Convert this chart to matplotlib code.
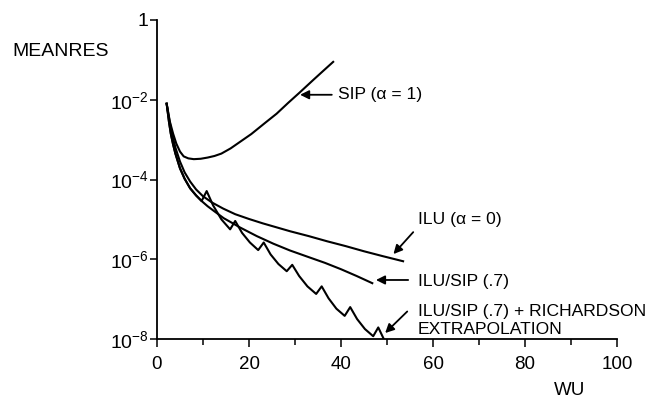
import numpy as np
import matplotlib
matplotlib.use("Agg")
import matplotlib.pyplot as plt

plt.rcParams['font.family'] = ['Liberation Sans', 'DejaVu Sans']
plt.rcParams['mathtext.fontset'] = 'custom'
plt.rcParams['mathtext.rm'] = 'Liberation Sans'
plt.rcParams['mathtext.it'] = 'Liberation Sans'
plt.rcParams['mathtext.bf'] = 'Liberation Sans'

# Mean residual histories (work units vs log10 of MEANRES)
sip_wu = [2.1, 2.8, 3.5, 4.2, 5.0, 5.8, 6.8, 8.0, 9.5, 11.0, 12.5, 14.0, 16.0, 18.0, 20.5, 23.5,
          26.0, 28.5, 31.0, 34.0, 36.0, 38.3]
sip_log = [-2.1, -2.55, -2.85, -3.1, -3.3, -3.42, -3.47, -3.49, -3.48, -3.45, -3.41, -3.35, -3.22, -3.06, -2.86, -2.58,
           -2.35, -2.08, -1.82, -1.5, -1.29, -1.05]

ilu_wu = [2.1, 2.6, 3.0, 3.5, 4.0, 5.0, 6.0, 7.2, 8.5, 10.0, 12.0, 14.4, 17.0, 20.0, 23.0, 26.0,
          29.0, 33.0, 37.0, 41.0, 45.0, 49.0, 53.5]
ilu_log = [-2.1, -2.45, -2.7, -2.97, -3.2, -3.55, -3.82, -4.05, -4.25, -4.42, -4.58, -4.73, -4.87, -4.99, -5.1, -5.2,
           -5.3, -5.42, -5.55, -5.67, -5.8, -5.92, -6.05]

ilusip_wu = [2.1, 2.6, 3.0, 3.5, 4.0, 5.0, 6.0, 7.2, 8.5, 9.7, 11.0, 12.5, 14.5, 16.5, 18.0, 21.7,
             25.3, 28.9, 33.3, 36.5, 40.0, 43.4, 46.8]
ilusip_log = [-2.1, -2.55, -2.85, -3.12, -3.35, -3.72, -3.98, -4.22, -4.4, -4.54, -4.67, -4.8, -4.97, -5.1, -5.2, -5.42,
              -5.61, -5.78, -5.96, -6.09, -6.25, -6.42, -6.6]

rich_wu = [2.1, 2.6, 3.0, 3.5, 4.0, 5.0, 6.0, 7.2, 8.5, 9.7,
           10.8, 12.2, 14.0, 15.9,
           17.0, 18.5, 20.2, 22.0,
           23.2, 24.7, 26.4, 28.2,
           29.4, 30.9, 32.7, 34.6,
           35.8, 37.3, 39.0, 40.8,
           42.0, 43.5, 45.2, 47.0,
           48.1, 49.3]
rich_log = [-2.1, -2.55, -2.85, -3.12, -3.35, -3.72, -3.98, -4.22, -4.4, -4.54,
            -4.29, -4.65, -5.0, -5.25,
            -5.04, -5.34, -5.58, -5.77,
            -5.58, -5.88, -6.12, -6.3,
            -6.14, -6.42, -6.68, -6.87,
            -6.68, -6.98, -7.24, -7.42,
            -7.2, -7.5, -7.75, -7.93,
            -7.71, -8.0]

y_tick_exps = [0, -2, -4, -6, -8]
x_major = [0, 20, 40, 60, 80, 100]
x_minor = [10, 30, 50, 70, 90]

fig = plt.figure(figsize=(6.49, 4.00), dpi=100)
ax = fig.add_axes([157 / 649, 1 - 339 / 400, 460 / 649, 319 / 400])

lw = 1.5
for wu, lg in [(sip_wu, sip_log), (ilu_wu, ilu_log), (ilusip_wu, ilusip_log), (rich_wu, rich_log)]:
    ax.plot(wu, np.power(10.0, lg), color='black', lw=lw, solid_joinstyle='round')

ax.set_yscale('log')
ax.set_xlim(0, 100)
ax.set_ylim(1e-8, 1)

ax.set_yticks([10.0 ** e for e in y_tick_exps])
ax.set_yticklabels(['1' if e == 0 else r'$10^{%d}$' % e for e in y_tick_exps])
ax.yaxis.set_minor_locator(matplotlib.ticker.NullLocator())
ax.set_xticks(x_major)
ax.set_xticks(x_minor, minor=True)
ax.set_xticklabels([str(v) for v in x_major])

ax.tick_params(axis='both', which='major', width=1.1, color='black')
ax.tick_params(axis='x', which='major', length=6, pad=6, labelsize=13.5)
ax.tick_params(axis='x', which='minor', length=4, width=1.1)
ax.tick_params(axis='y', which='major', length=5, pad=1, labelsize=14)

for s in ['top', 'right']:
    ax.spines[s].set_visible(False)
for s in ['left', 'bottom']:
    ax.spines[s].set_linewidth(1.3)

txt = dict(fontsize=12.6, color='black', va='center', ha='left')
arrow = dict(arrowstyle='-|>', mutation_scale=13, lw=1.3, color='black', shrinkA=0, shrinkB=0)

ax.annotate('', xy=(31.1, 10 ** -1.875), xytext=(38.0, 10 ** -1.875), arrowprops=arrow)
ax.text(39.3, 10 ** -1.875, 'SIP (α = 1)', **txt)

ax.annotate('', xy=(51.4, 10 ** -5.87), xytext=(55.7, 10 ** -5.32), arrowprops=arrow)
ax.text(56.7, 10 ** -5.0, 'ILU (α = 0)', **txt)

ax.annotate('', xy=(47.6, 10 ** -6.52), xytext=(54.6, 10 ** -6.52), arrowprops=arrow)
ax.text(56.7, 10 ** -6.55, 'ILU/SIP (.7)', **txt)

ax.annotate('', xy=(49.6, 10 ** -7.85), xytext=(54.4, 10 ** -7.31), arrowprops=arrow)
ax.text(56.7, 10 ** -7.3, 'ILU/SIP (.7) + RICHARDSON', **txt)
ax.text(56.7, 10 ** -7.75, 'EXTRAPOLATION', **txt)

ax.text(89.8, 10 ** -9.29, 'WU', fontsize=13.5, ha='center', va='center', clip_on=False)
fig.text(12 / 649, 1 - 51.5 / 400, 'MEANRES', fontsize=14, ha='left', va='center')

fig.savefig('out.png', dpi=100)
